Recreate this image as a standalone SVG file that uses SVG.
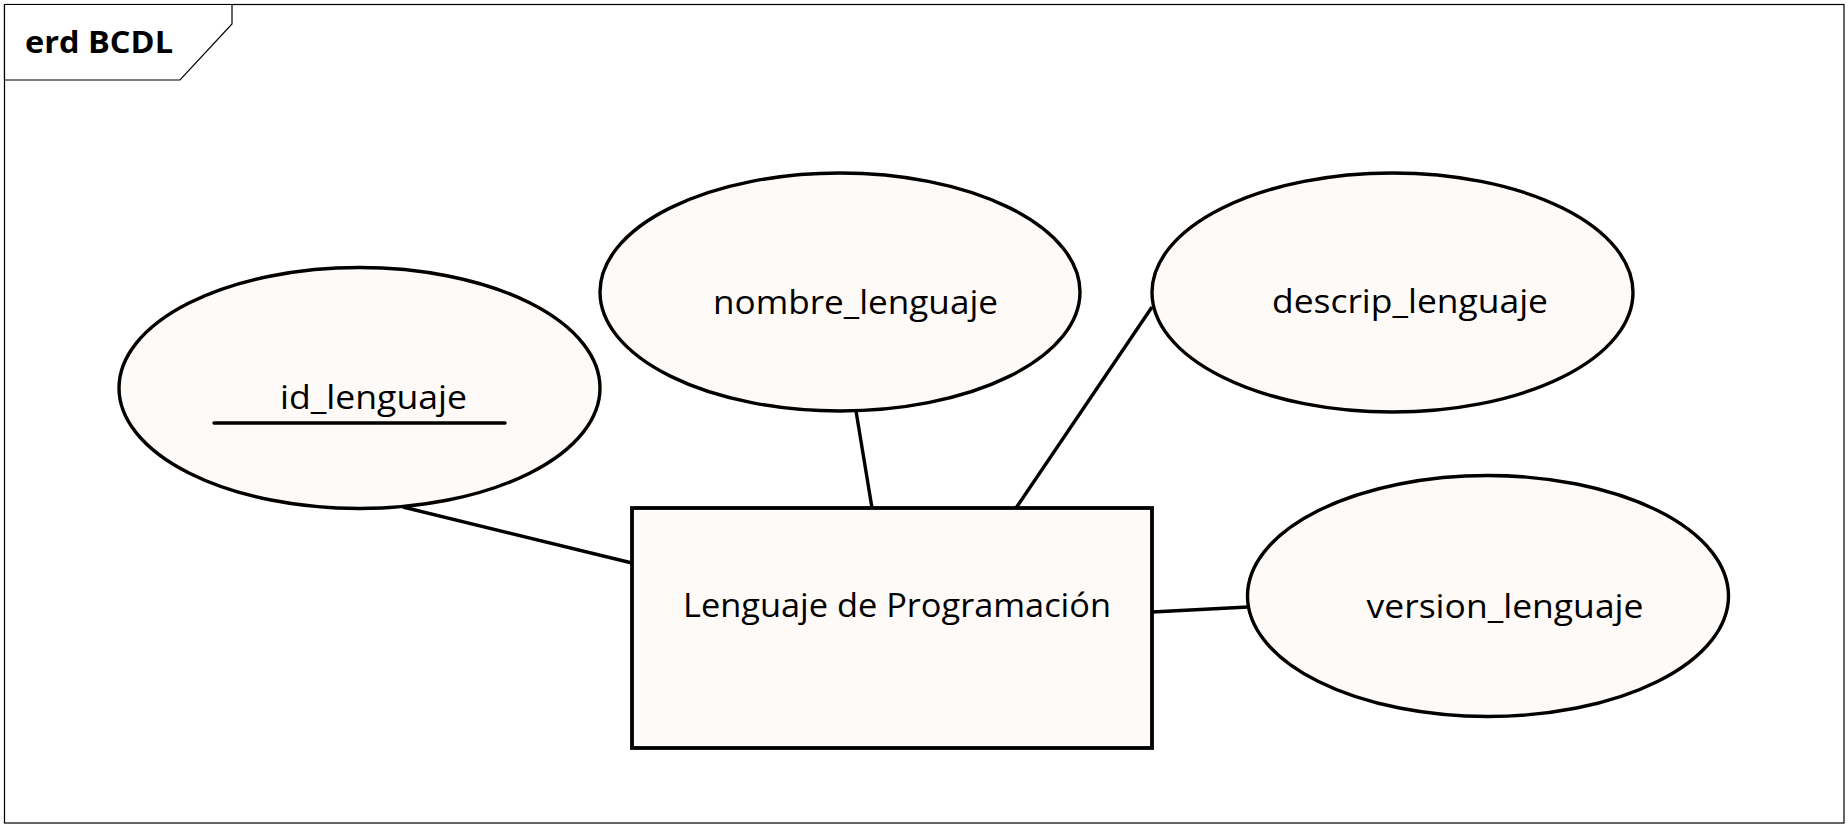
<svg xmlns="http://www.w3.org/2000/svg" width="1848" height="828" viewBox="0 0 1848 828">
<style>
.frame{fill:#ffffff;stroke:#000;stroke-width:1.2}
.tab{fill:#ffffff;stroke:#000;stroke-width:1.2}
.title{font-family:"Open Sans","Liberation Sans",sans-serif;font-weight:bold;font-size:31px;fill:#000}
.shape{fill:#fdfaf7;stroke:#000;stroke-width:3.4}
.ent{fill:#fdfaf7;stroke:#000;stroke-width:3.8}
.lbl{font-family:"Open Sans","Liberation Sans",sans-serif;font-size:33px;fill:#000;text-anchor:middle}
.conn{stroke:#000;stroke-width:3.4;fill:none}
</style>
<rect class="frame" x="4.5" y="4.5" width="1839.5" height="818.5"/>
<g id="frame-label">
<polygon class="tab" points="4.5,4.5 232,4.5 232,24 180,80 4.5,80"/>
<text class="title" x="25" y="53" textLength="148" lengthAdjust="spacingAndGlyphs">erd BCDL</text>
</g>
<g id="connectors">
<line class="conn" x1="403" y1="507" x2="632" y2="563"/>
<line class="conn" x1="856" y1="411" x2="872" y2="508"/>
<line class="conn" x1="1152" y1="307" x2="1016" y2="508"/>
<line class="conn" x1="1152" y1="612" x2="1248" y2="607"/>
</g>
<g id="id_lenguaje">
<ellipse class="shape" cx="359.5" cy="388" rx="240.5" ry="120.5"/>
<text class="lbl" x="373.5" y="409" textLength="187" lengthAdjust="spacingAndGlyphs">id_lenguaje</text>
<line x1="214" y1="423" x2="505" y2="423" stroke="#000" stroke-width="3.4" stroke-linecap="round"/>
</g>
<g id="nombre_lenguaje">
<ellipse class="shape" cx="840" cy="292" rx="240" ry="119"/>
<text class="lbl" x="855.5" y="314" textLength="285" lengthAdjust="spacingAndGlyphs">nombre_lenguaje</text>
</g>
<g id="descrip_lenguaje">
<ellipse class="shape" cx="1392.5" cy="292.5" rx="240.5" ry="119.5"/>
<text class="lbl" x="1410" y="313" textLength="276" lengthAdjust="spacingAndGlyphs">descrip_lenguaje</text>
</g>
<g id="version_lenguaje">
<ellipse class="shape" cx="1488" cy="596" rx="240.5" ry="120.5"/>
<text class="lbl" x="1505" y="618" textLength="277" lengthAdjust="spacingAndGlyphs">version_lenguaje</text>
</g>
<g id="lenguaje_de_programacion">
<rect class="ent" x="632" y="508" width="520" height="240"/>
<text class="lbl" x="897" y="617" textLength="428" lengthAdjust="spacingAndGlyphs">Lenguaje de Programación</text>
</g>
</svg>
